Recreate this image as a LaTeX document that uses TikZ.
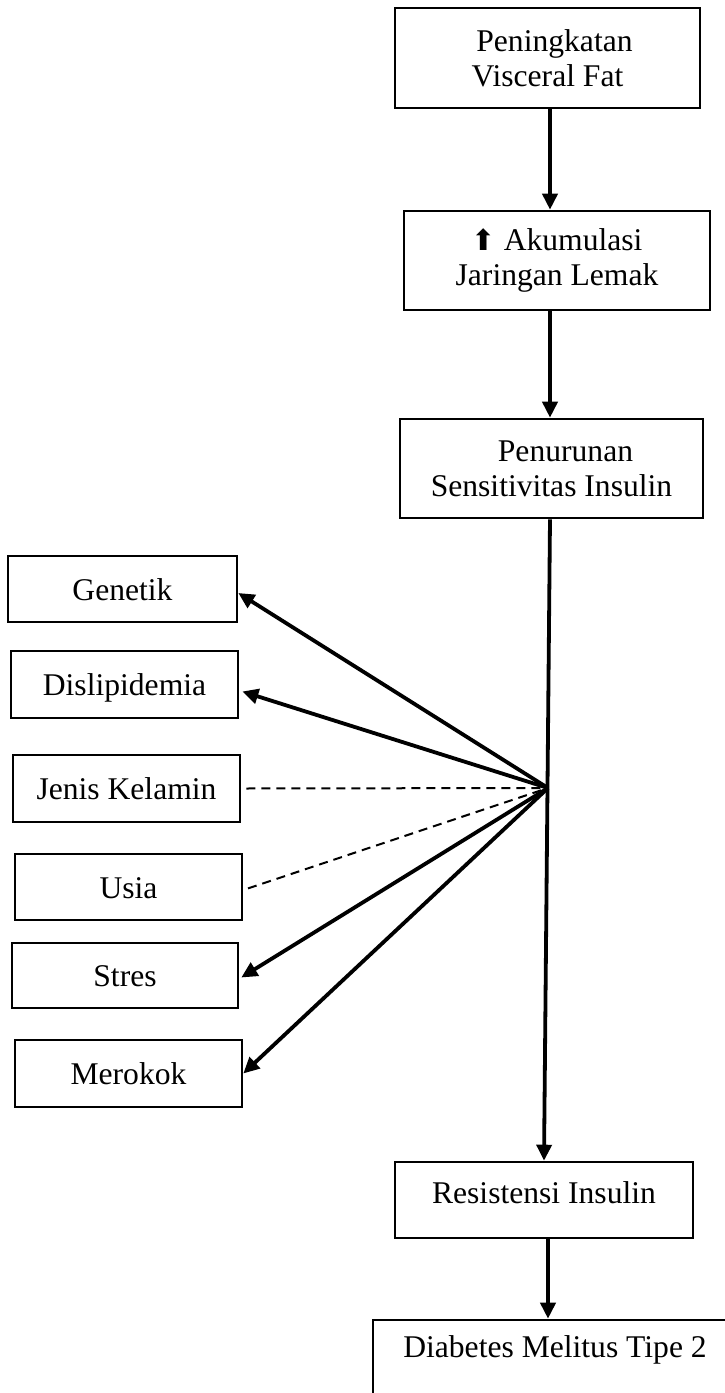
\documentclass[tikz,border=0pt]{standalone}
\usepackage{fontspec}
\setmainfont{Liberation Serif}
\newfontfamily\symfont{DejaVu Sans}
\usetikzlibrary{arrows.meta}

\begin{document}
\begin{tikzpicture}[
    x=1pt, y=-1pt, >={Triangle[length=16pt,width=15pt]},
    bx/.style={rectangle, draw, line width=2.6pt, inner sep=0pt, align=center,
               font=\fontsize{31.6pt}{35pt}\selectfont},
    fx/.style={bx, text height=22pt, text depth=0pt},
    arr/.style={->, line width=3.8pt},
    dsh/.style={line width=2pt, dash pattern=on 9pt off 6pt, shorten <=5pt}
]
\useasboundingbox (0,0) rectangle (725,1393);
\node[bx, minimum width=305pt, minimum height=100pt] (pvf) at (547.5,58)
    {\hspace*{14pt}Peningkatan\\Visceral Fat};
\node[bx, minimum width=306pt, minimum height=99pt] (ajl) at (557,260.5)
    {{\symfont\fontsize{29pt}{29pt}\selectfont ⬆} Akumulasi\\Jaringan Lemak};
\node[bx, minimum width=303pt, minimum height=99pt] (psi) at (551.5,468.5)
    {\hspace*{28pt}Penurunan\\Sensitivitas Insulin};
\node[fx, minimum width=229pt, minimum height=66pt] (gen) at (122.5,589)   {Genetik};
\node[fx, minimum width=227pt, minimum height=67pt] (dis) at (124.5,684.5) {Dislipidemia};
\node[fx, minimum width=227pt, minimum height=67pt] (jk)  at (126.5,788.5) {Jenis Kelamin};
\node[fx, minimum width=227pt, minimum height=66pt] (usia) at (128.5,887)  {Usia};
\node[fx, minimum width=226pt, minimum height=65pt] (str) at (125,975.5)   {Stres};
\node[fx, minimum width=227pt, minimum height=67pt] (mer) at (128.5,1073.5) {Merokok};
\node[bx, minimum width=298pt, minimum height=76pt, text height=22pt, text depth=16pt]
    (ri) at (544,1200) {Resistensi Insulin};
\node[bx, minimum width=364pt, minimum height=100pt, text height=22pt, text depth=48pt]
    (dmt) at (555,1370) {Diabetes Melitus Tipe 2};
\coordinate (spine) at (550,0);
\coordinate (hub) at (548,788);

\draw[arr] (pvf.south -| spine) -- (ajl.north -| spine);
\draw[arr] (ajl.south -| spine) -- (psi.north -| spine);
\draw[arr] (psi.south -| spine) -- (ri.north);
\draw[arr] (ri.south -| hub) -- (dmt.north -| hub);
\draw[arr] (hub) -- ([yshift=-4pt]gen.east);
\draw[arr] (hub) -- ([xshift=3pt,yshift=-7pt]dis.east);
\draw[dsh] (jk.east) -- (hub);
\draw[dsh] ([yshift=-3pt]usia.east) -- (hub);
\draw[arr] (hub) -- ([xshift=2pt,yshift=-2pt]str.east);
\draw[arr] (hub) -- (mer.east);
\end{tikzpicture}
\end{document}
